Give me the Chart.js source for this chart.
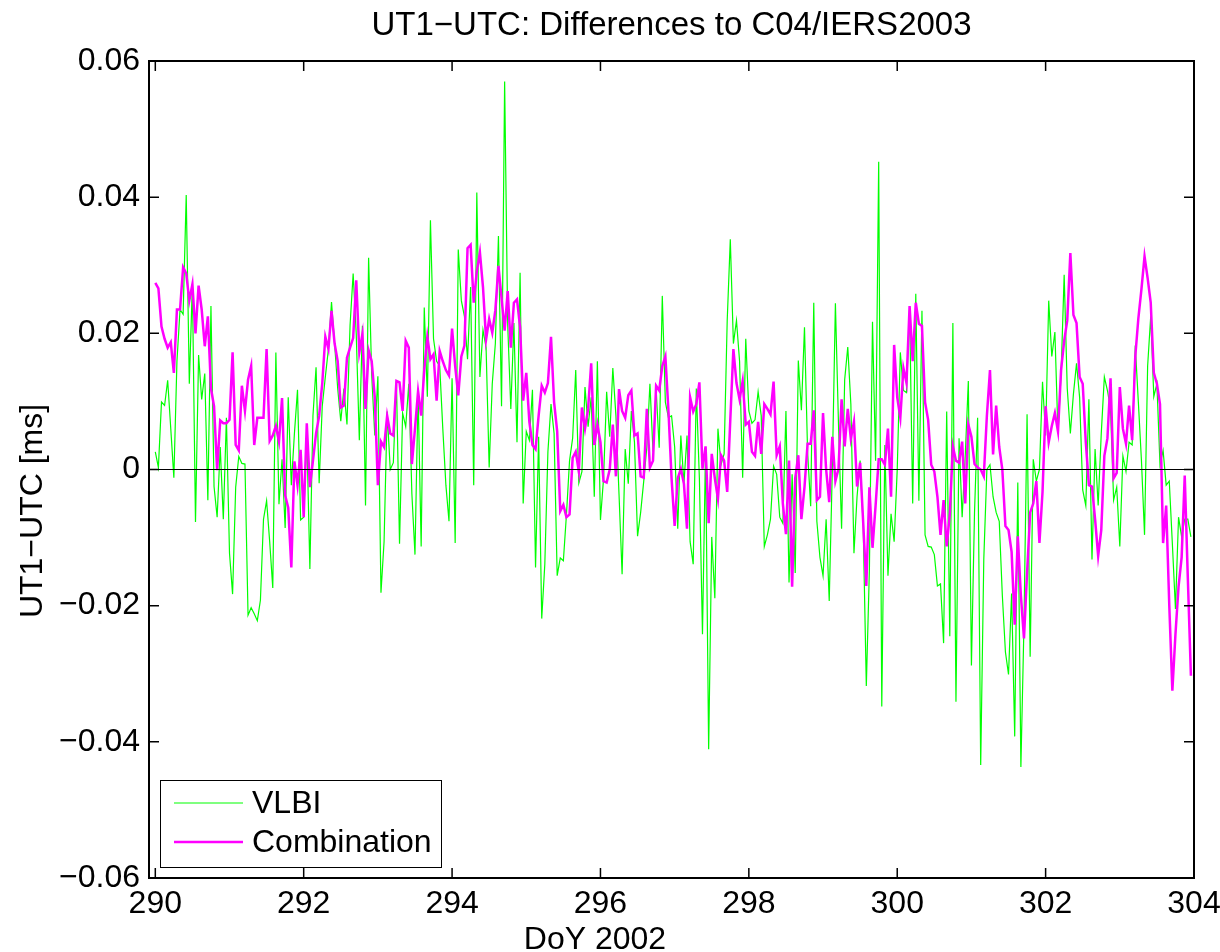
<!DOCTYPE html>
<html>
<head>
<meta charset="utf-8">
<title>UT1-UTC: Differences to C04/IERS2003</title>
<script src="https://cdn.jsdelivr.net/npm/chart.js@4.4.0/dist/chart.umd.min.js"></script>
<style>
  html, body { margin: 0; padding: 0; background: #fff; }
  #chart { display: block; }
</style>
</head>
<body>
<canvas id="chart" width="1220" height="952"></canvas>
<script>
// axis ticks
const xTicks = [290, 292, 294, 296, 298, 300, 302, 304];
const yTicks = [-0.06, -0.04, -0.02, 0, 0.02, 0.04, 0.06];

// hourly epochs, first one at DoY 290.0
const startDoy = 290;

// UT1-UTC differences [ms]
const vlbi = [
  0.0026, 0.0003, 0.0099, 0.0094, 0.0131, 0.0060, -0.0012, 0.0159, 0.0235, 0.0228, 0.0403, 0.0126, 0.0272, -0.0077,
  0.0168, 0.0103, 0.0141, -0.0045, 0.0240, -0.0025, -0.0070, 0.0033, -0.0073, 0.0076, -0.0123, -0.0183, -0.0026, 0.0019,
  0.0009, 0.0008, -0.0214, -0.0203, -0.0212, -0.0222, -0.0192, -0.0073, -0.0046, -0.0106, -0.0174, 0.0172, -0.0051,
  0.0015, -0.0086, 0.0106, -0.0023, 0.0053, 0.0117, -0.0074, -0.0070, 0.0053, -0.0146, 0.0079, 0.0150, -0.0020, 0.0093,
  0.0136, 0.0177, 0.0246, 0.0185, 0.0119, 0.0071, 0.0119, 0.0066, 0.0212, 0.0288, 0.0199, 0.0043, 0.0211, -0.0053,
  0.0311, 0.0139, 0.0050, 0.0137, -0.0181, -0.0106, 0.0085, 0.0000, 0.0010, 0.0130, -0.0109, 0.0083, 0.0063, 0.0126,
  -0.0036, -0.0125, 0.0113, -0.0113, 0.0238, 0.0107, 0.0366, 0.0192, 0.0159, 0.0152, 0.0060, -0.0023, -0.0076, 0.0134,
  -0.0108, 0.0323, 0.0248, 0.0225, 0.0162, 0.0268, -0.0023, 0.0407, 0.0136, 0.0205, 0.0179, 0.0003, 0.0126, 0.0185,
  0.0343, 0.0093, 0.0570, 0.0212, 0.0089, 0.0215, 0.0040, 0.0289, -0.0050, 0.0056, 0.0043, 0.0117, -0.0144,
  0.0048, -0.0219, -0.0139, 0.0026, 0.0096, 0.0053, -0.0156, -0.0130, -0.0134, -0.0066, 0.0013, 0.0046, 0.0146, -0.0020,
  -0.0003, 0.0121, 0.0063, 0.0106, -0.0040, 0.0159, -0.0074, -0.0013, 0.0114, 0.0048, 0.0149, 0.0079, -0.0036, -0.0154,
  0.0030, -0.0021, 0.0086, 0.0040, -0.0098, -0.0063, -0.0017, 0.0033, 0.0126, 0.0026, 0.0119, 0.0032, 0.0255, 0.0099, 0.0076,
  0.0079, 0.0033, -0.0087, 0.0050, -0.0021, 0.0050, -0.0106, -0.0139, 0.0119, -0.0013, -0.0242, 0.0033, -0.0411, -0.0099,
  -0.0189, 0.0060, 0.0007, 0.0023, 0.0219, 0.0338, 0.0185, 0.0219, 0.0159, -0.0012, 0.0192, 0.0086, 0.0068, 0.0073,
  0.0114, 0.0079, -0.0113, -0.0096, -0.0073, 0.0005, -0.0007, -0.0070, -0.0079, 0.0086, -0.0166, -0.0007, -0.0152, 0.0160,
  0.0087, 0.0209, 0.0026, -0.0054, 0.0245, -0.0076, -0.0129, -0.0156, -0.0073, -0.0193, 0.0000, 0.0244, 0.0066, -0.0087,
  0.0132, 0.0180, 0.0096, -0.0123, -0.0040, 0.0013, -0.0085, -0.0318, -0.0146, 0.0217, 0.0013, 0.0452, -0.0348, 0.0036,
  -0.0156, -0.0065, -0.0106, 0.0000, 0.0172, 0.0116, 0.0113, 0.0238, -0.0050, 0.0258, -0.0046, 0.0233, -0.0096, -0.0113,
  -0.0114, -0.0125, -0.0171, -0.0168, -0.0255, 0.0085, -0.0245, 0.0215, -0.0341, 0.0046, -0.0070, 0.0020, 0.0130, -0.0288,
  -0.0063, 0.0076, -0.0434, -0.0132, 0.0000, 0.0007, -0.0040, -0.0063, -0.0076, -0.0185, -0.0268, -0.0301, -0.0182, -0.0392,
  -0.0019, -0.0437, -0.0228, 0.0081, -0.0275, 0.0015, -0.0017, 0.0000, 0.0129, 0.0050, 0.0248, 0.0166, 0.0202, 0.0053,
  0.0140, 0.0286, 0.0119, 0.0053, 0.0111, 0.0156, 0.0106, -0.0030, -0.0053, 0.0103, -0.0132, 0.0030, -0.0053, 0.0053,
  0.0136, 0.0116, 0.0089, -0.0045, -0.0026, -0.0113, 0.0020, -0.0003, 0.0040, 0.0036, 0.0182, 0.0099, 0.0013, -0.0096,
  0.0152, 0.0225, 0.0107, 0.0126, 0.0007, 0.0028, -0.0023, -0.0017, -0.0109, -0.0205, -0.0070, -0.0099, -0.0073, -0.0073, -0.0099
];

const comb = [
  0.0274, 0.0266, 0.0210, 0.0192, 0.0179, 0.0187, 0.0142, 0.0235, 0.0235, 0.0297, 0.0288, 0.0248, 0.0272, 0.0200,
  0.0270, 0.0235, 0.0181, 0.0225, 0.0119, 0.0093, -0.0001, 0.0072, 0.0068, 0.0068, 0.0073, 0.0172, 0.0036, 0.0028,
  0.0123, 0.0086, 0.0132, 0.0152, 0.0036, 0.0076, 0.0076, 0.0076, 0.0177, 0.0042, 0.0050, 0.0064, 0.0041,
  0.0105, -0.0038, -0.0056, -0.0144, 0.0012, -0.0023, 0.0029, -0.0070, 0.0068, -0.0026, 0.0013, 0.0053, 0.0079, 0.0126,
  0.0195, 0.0177, 0.0233, 0.0185, 0.0159, 0.0091, 0.0094, 0.0164, 0.0179, 0.0193, 0.0278, 0.0172, 0.0199, 0.0089,
  0.0175, 0.0159, 0.0106, -0.0023, 0.0041, 0.0033, 0.0079, 0.0053, 0.0050, 0.0130, 0.0128, 0.0086, 0.0189, 0.0179,
  0.0008, 0.0060, 0.0115, 0.0079, 0.0146, 0.0195, 0.0162, 0.0169, 0.0101, 0.0174, 0.0159, 0.0146, 0.0138, 0.0207,
  0.0152, 0.0109, 0.0166, 0.0182, 0.0325, 0.0330, 0.0245, 0.0291, 0.0319, 0.0268, 0.0191, 0.0221, 0.0201, 0.0234,
  0.0299, 0.0252, 0.0204, 0.0262, 0.0179, 0.0245, 0.0250, 0.0209, 0.0101, 0.0142, 0.0070, 0.0036, 0.0030,
  0.0079, 0.0123, 0.0113, 0.0127, 0.0195, 0.0099, 0.0056, -0.0061, -0.0052, -0.0070, -0.0066, 0.0017, 0.0026, -0.0003,
  0.0091, 0.0060, 0.0089, 0.0156, 0.0036, 0.0066, 0.0040, -0.0017, -0.0019, 0.0000, 0.0066, -0.0010, 0.0118, 0.0086,
  0.0076, 0.0109, 0.0116, 0.0050, 0.0053, -0.0010, -0.0012, 0.0089, 0.0003, 0.0013, 0.0123, 0.0116, 0.0152, 0.0166, 0.0086,
  -0.0013, -0.0083, -0.0013, 0.0001, -0.0021, -0.0087, 0.0106, 0.0085, 0.0096, 0.0128, 0.0001, 0.0034, -0.0079, 0.0023,
  -0.0013, -0.0043, 0.0021, 0.0013, -0.0033, 0.0073, 0.0177, 0.0127, 0.0103, 0.0130, 0.0066, 0.0070, 0.0026, 0.0020,
  0.0070, 0.0023, 0.0096, 0.0089, 0.0081, 0.0129, 0.0021, 0.0034, -0.0050, -0.0095, 0.0013, -0.0172, -0.0013, 0.0021,
  -0.0073, -0.0026, 0.0038, 0.0038, 0.0087, -0.0045, -0.0040, 0.0083, 0.0000, -0.0048, 0.0048, -0.0017, 0.0001, 0.0103,
  0.0034, 0.0089, 0.0045, 0.0070, -0.0025, 0.0010, -0.0079, -0.0171, -0.0026, -0.0115, -0.0053, 0.0015, 0.0015, 0.0007,
  0.0060, -0.0040, 0.0183, 0.0106, 0.0076, 0.0149, 0.0127, 0.0240, 0.0159, 0.0245, 0.0214, 0.0211, 0.0099, 0.0073,
  0.0007, -0.0003, -0.0040, -0.0096, -0.0045, -0.0113, -0.0066, 0.0034, 0.0013, 0.0010, 0.0041, -0.0050, 0.0066, 0.0048,
  0.0008, 0.0003, 0.0000, -0.0010, 0.0079, 0.0146, 0.0022, 0.0094, 0.0033, 0.0000, -0.0083, -0.0089, -0.0121, -0.0228,
  -0.0098, -0.0185, -0.0248, -0.0152, -0.0063, -0.0050, -0.0017, -0.0108, -0.0033, 0.0093, 0.0040, 0.0064, 0.0083, 0.0056,
  0.0146, 0.0189, 0.0219, 0.0318, 0.0227, 0.0215, 0.0136, 0.0126, 0.0040, -0.0023, -0.0025, -0.0073, -0.0127, -0.0089,
  0.0020, 0.0046, 0.0134, -0.0013, -0.0005, 0.0121, 0.0060, 0.0038, 0.0094, 0.0043, 0.0166, 0.0222, 0.0265, 0.0313,
  0.0281, 0.0245, 0.0142, 0.0126, 0.0096, -0.0108, -0.0053, -0.0199, -0.0325, -0.0242, -0.0172, -0.0129, -0.0009, -0.0159, -0.0303
];

const FONT = '"Liberation Sans", Arial, Helvetica, sans-serif';
const FONT_SIZE = 32;
const TICK_LEN = 10;

const canvas = document.getElementById('chart');

Chart.defaults.font.family = FONT;
Chart.defaults.font.size = FONT_SIZE;
Chart.defaults.color = '#000';

const toPoints = (vals) => vals.map((v, i) => ({ x: startDoy + i / 24, y: v }));

function fmtY(v) {
  if (Math.abs(v) < 1e-9) return '0';
  return (v < 0 ? '\u2212' : '') + Math.abs(v).toFixed(2);
}

// box, inner ticks, legend and titles (matlab look)
const frame = {
  id: 'frame',
  afterDraw(chart) {
    const { ctx, chartArea: a, scales: { x, y } } = chart;
    ctx.save();
    ctx.strokeStyle = '#000';
    ctx.lineWidth = 2;
    ctx.strokeRect(a.left, a.top, a.right - a.left, a.bottom - a.top);

    ctx.lineWidth = 1.5;
    ctx.beginPath();
    x.ticks.forEach(t => {
      const px = x.getPixelForValue(t.value);
      ctx.moveTo(px, a.bottom); ctx.lineTo(px, a.bottom - TICK_LEN);
      ctx.moveTo(px, a.top); ctx.lineTo(px, a.top + TICK_LEN);
    });
    y.ticks.forEach(t => {
      const py = y.getPixelForValue(t.value);
      ctx.moveTo(a.left, py); ctx.lineTo(a.left + TICK_LEN, py);
      ctx.moveTo(a.right, py); ctx.lineTo(a.right - TICK_LEN, py);
    });
    ctx.stroke();

    // legend
    const lx = a.left + 11, ly = a.bottom - 98, lw = 281, lh = 87;
    ctx.fillStyle = '#fff';
    ctx.fillRect(lx, ly, lw, lh);
    ctx.lineWidth = 1;
    ctx.strokeRect(lx + 0.5, ly + 0.5, lw, lh);
    ctx.font = FONT_SIZE + 'px ' + FONT;
    ctx.textBaseline = 'middle';
    ctx.textAlign = 'left';
    chart.data.datasets.filter(d => d.inLegend).forEach((d, i) => {
      const ry = ly + 23 + i * 39;
      ctx.strokeStyle = d.borderColor;
      ctx.lineWidth = d.borderWidth;
      ctx.beginPath();
      ctx.moveTo(lx + 14, ry); ctx.lineTo(lx + 83, ry);
      ctx.stroke();
      ctx.fillStyle = '#000';
      ctx.fillText(d.label, lx + 92, ry + 1);
    });

    // titles
    ctx.fillStyle = '#000';
    ctx.textBaseline = 'alphabetic';
    ctx.textAlign = 'center';
    ctx.font = '33px ' + FONT;
    ctx.fillText('UT1\u2212UTC: Differences to C04/IERS2003', (a.left + a.right) / 2, 35);
    ctx.font = FONT_SIZE + 'px ' + FONT;
    ctx.fillText('DoY 2002', 595, 949);
    ctx.translate(42, 511);
    ctx.rotate(-Math.PI / 2);
    ctx.fillText('UT1\u2212UTC [ms]', 0, 0);
    ctx.restore();
  }
};

new Chart(canvas, {
  type: 'line',
  data: {
    datasets: [
      { label: 'VLBI', data: toPoints(vlbi), borderColor: '#00ff00', borderWidth: 1.2,
        pointRadius: 0, order: 2, inLegend: true },
      { label: 'Combination', data: toPoints(comb), borderColor: '#ff00ff', borderWidth: 2.5,
        pointRadius: 0, order: 1, inLegend: true },
      { label: 'zero', data: [{ x: 289.915, y: 0 }, { x: 304, y: 0 }], borderColor: '#000',
        borderWidth: 1, pointRadius: 0, order: 0 }
    ]
  },
  options: {
    responsive: false,
    animation: false,
    devicePixelRatio: 1,
    layout: { padding: { top: 61, right: 26, left: 0, bottom: 0 } },
    plugins: {
      legend: { display: false },
      tooltip: { enabled: false },
      title: { display: false }
    },
    scales: {
      x: {
        type: 'linear',
        min: 289.915,
        max: 304,
        afterFit: s => { s.height = 74; s.paddingLeft = 0; s.paddingRight = 0; },
        afterBuildTicks: s => { s.ticks = xTicks.map(v => ({ value: v })); },
        grid: { display: false, drawTicks: false },
        border: { display: false },
        ticks: { padding: 7, maxRotation: 0, autoSkip: false }
      },
      y: {
        type: 'linear',
        min: -0.06,
        max: 0.06,
        afterFit: s => { s.width = 149; s.paddingTop = 0; s.paddingBottom = 0; },
        afterBuildTicks: s => { s.ticks = yTicks.map(v => ({ value: v })); },
        grid: { display: false, drawTicks: false },
        border: { display: false },
        ticks: { padding: 9, autoSkip: false, callback: v => fmtY(v) }
      }
    }
  },
  plugins: [frame]
});
</script>
</body>
</html>
